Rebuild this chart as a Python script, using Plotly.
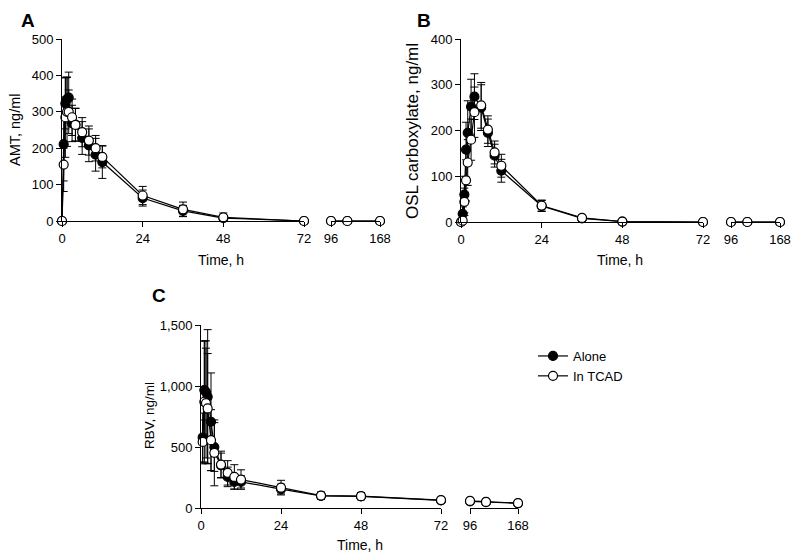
import plotly.graph_objects as go

# ---------------- data ----------------
time_ab = [0, 0.5, 1, 1.5, 2, 3, 4, 6, 8, 10, 12, 24, 36, 48, 72, 96, 120, 168]

amt_alone = [0, 211, 323, 335, 339, 268, 265, 228, 208, 182, 162, 63, 28, 8, 0, 0, 0, 0]
amt_alone_sd = [0, 130, 70, 60, 70, 50, 45, 45, 45, 45, 45, 22, 15, 8, 0, 0, 0, 0]
amt_tcad = [0, 155, 285, 300, 300, 285, 264, 244, 221, 200, 176, 70, 32, 10, 0, 0, 0, 0]
amt_tcad_sd = [0, 45, 110, 95, 60, 50, 45, 40, 40, 35, 30, 25, 20, 12, 0, 0, 0, 0]

osl_alone = [0, 18, 60, 158, 195, 252, 274, 250, 195, 145, 112, 35, 8, 1, 0, 0, 0, 0]
osl_alone_sd = [0, 15, 40, 60, 70, 60, 50, 50, 30, 25, 25, 12, 4, 1, 0, 0, 0, 0]
osl_tcad = [0, 3, 44, 91, 130, 180, 240, 255, 202, 152, 123, 36, 9, 1, 0, 0, 0, 0]
osl_tcad_sd = [0, 5, 30, 45, 50, 45, 55, 50, 30, 25, 25, 12, 4, 1, 0, 0, 0, 0]

time_c = [0.5, 1, 1.5, 2, 3, 4, 6, 8, 10, 12, 24, 36, 48, 72, 96, 120, 168]
rbv_alone = [578, 967, 950, 912, 707, 500, 350, 255, 214, 214, 155, 100, 95, 62, 55, 48, 38]
rbv_alone_sd = [200, 400, 420, 550, 400, 200, 100, 80, 60, 50, 40, 25, 25, 10, 5, 5, 5]
rbv_tcad = [542, 871, 860, 816, 556, 452, 356, 288, 255, 233, 167, 102, 97, 65, 58, 50, 40]
rbv_tcad_sd = [180, 500, 450, 450, 250, 270, 110, 100, 100, 80, 60, 30, 30, 5, 5, 5, 5]

x_ticks_1 = [0, 24, 48, 72]
x_ticks_2 = [96, 168]
series_names = ["Alone", "In TCAD"]

# page body has an 8px margin: the figure is drawn at (8, 8)
OFF = 8
W, H = 800 - OFF, 560 - OFF
FONT = "Liberation Sans, Arial, Helvetica, sans-serif"

fig = go.Figure()


def split(t, v, e):
    a = [(ti, vi, ei) for ti, vi, ei in zip(t, v, e) if ti <= 72]
    b = [(ti, vi, ei) for ti, vi, ei in zip(t, v, e) if ti >= 96]
    return [list(z) for z in zip(*a)], [list(z) for z in zip(*b)]


def add_series(t, v, e, xa1, xa2, ya, filled, name, legend):
    seg1, seg2 = split(t, v, e)
    marker = dict(size=9, symbol="circle",
                  color="black" if filled else "white",
                  line=dict(color="black", width=1.2))
    for i, (seg, xa) in enumerate([(seg1, xa1), (seg2, xa2)]):
        fig.add_trace(go.Scatter(
            x=seg[0], y=seg[1], xaxis=xa, yaxis=ya,
            mode="lines+markers", name=name,
            showlegend=(legend and i == 0), legendgroup=name,
            line=dict(color="black", width=1.2),
            marker=marker, cliponaxis=False,
            error_y=dict(type="data", array=seg[2], visible=True,
                         color="black", thickness=1, width=4),
        ))


panels = [
    (time_ab, amt_alone, amt_alone_sd, amt_tcad, amt_tcad_sd, "x", "x2", "y", False),
    (time_ab, osl_alone, osl_alone_sd, osl_tcad, osl_tcad_sd, "x3", "x4", "y2", False),
    (time_c, rbv_alone, rbv_alone_sd, rbv_tcad, rbv_tcad_sd, "x5", "x6", "y3", True),
]
for t, va, ea, vt, et, xa1, xa2, ya, leg in panels:
    add_series(t, va, ea, xa1, xa2, ya, True, series_names[0], leg)
    add_series(t, vt, et, xa1, xa2, ya, False, series_names[1], leg)

axis_common = dict(showline=True, linecolor="black", linewidth=1,
                   ticks="outside", ticklen=5, tickcolor="black", tickwidth=1,
                   showgrid=False, zeroline=False, automargin=False,
                   tickfont=dict(family=FONT, size=13, color="black"))


def px_x(a, b):
    return [(a - OFF) / W, (b - OFF) / W]


def px_y(bottom, top):
    return [1 - (bottom - OFF) / H, 1 - (top - OFF) / H]


# panel geometry in page pixels
geo = {
    "A": dict(x1=(62, 304), x2=(331, 380), y=(221, 39), yr=[0, 500], yt=[0, 100, 200, 300, 400, 500]),
    "B": dict(x1=(461, 703), x2=(731, 780), y=(222, 39), yr=[0, 400], yt=[0, 100, 200, 300, 400]),
    "C": dict(x1=(201, 441), x2=(470, 518), y=(508, 325), yr=[0, 1500], yt=[0, 500, 1000, 1500]),
}
axes_ids = {"A": ("xaxis", "xaxis2", "yaxis", "x", "y"),
            "B": ("xaxis3", "xaxis4", "yaxis2", "x3", "y2"),
            "C": ("xaxis5", "xaxis6", "yaxis3", "x5", "y3")}

layout_axes = {}
for key, g in geo.items():
    xn1, xn2, yn, xref, yref = axes_ids[key]
    layout_axes[xn1] = dict(axis_common, domain=px_x(*g["x1"]), range=[0, 72],
                            tickvals=x_ticks_1, anchor=yref)
    layout_axes[xn2] = dict(axis_common, domain=px_x(*g["x2"]), range=[96, 168],
                            tickvals=x_ticks_2, anchor=yref)
    layout_axes[yn] = dict(axis_common, domain=px_y(*g["y"]), range=g["yr"],
                           tickvals=g["yt"], tickformat=",", anchor=xref)

fig.update_layout(**layout_axes)

ann = []


def text(x, y, s, size, angle=0, bold=False, yanchor="middle"):
    ann.append(dict(x=(x - OFF) / W, y=1 - (y - OFF) / H, xref="paper", yref="paper",
                    text=f"<b>{s}</b>" if bold else s, showarrow=False,
                    textangle=angle, xanchor="center", yanchor=yanchor,
                    font=dict(family=FONT, size=size, color="black")))


text(28, 8.5, "A", 19, bold=True, yanchor="top")
text(424, 8.5, "B", 19, bold=True, yanchor="top")
text(159, 295, "C", 19, bold=True)
text(221, 260, "Time, h", 14)
text(620, 260, "Time, h", 14)
text(360, 545, "Time, h", 14)
text(15, 130, "AMT, ng/ml", 14.5, angle=-90)
text(412, 131, "OSL carboxylate, ng/ml", 17, angle=-90)
text(149, 416, "RBV, ng/ml", 13.5, angle=-90)

fig.update_layout(
    annotations=ann,
    template="none",
    width=W, height=H,
    margin=dict(l=0, r=0, t=0, b=0, pad=0),
    paper_bgcolor="white", plot_bgcolor="rgba(0,0,0,0)",
    font=dict(family=FONT, size=13, color="black"),
    showlegend=True,
    legend=dict(x=(533 - OFF) / W, y=1 - (341 - OFF) / H, xanchor="left", yanchor="top",
                bgcolor="rgba(0,0,0,0)", borderwidth=0, itemwidth=30,
                font=dict(family=FONT, size=13, color="black"),
                tracegroupgap=0),
)

fig.write_html("out.html")
